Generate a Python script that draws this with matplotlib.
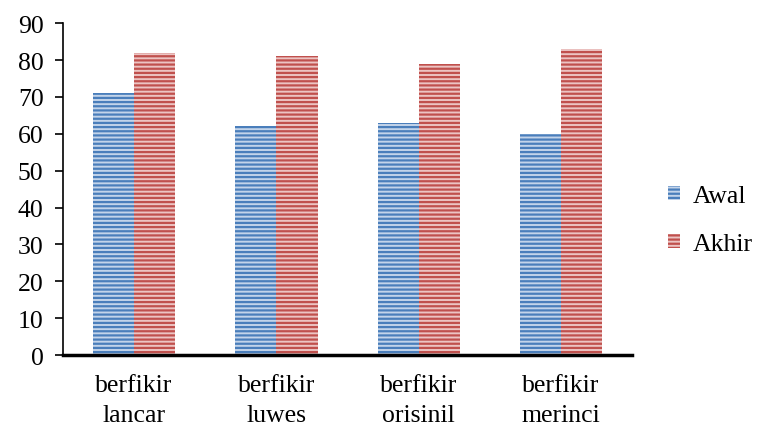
import matplotlib
matplotlib.use("Agg")
import matplotlib.pyplot as plt
from matplotlib.patches import Patch
import numpy as np

categories = ["berfikir\nlancar", "berfikir\nluwes", "berfikir\norisinil", "berfikir\nmerinci"]
awal = [71, 62, 63, 60]
akhir = [82, 81, 79, 83]
series_names = ["Awal", "Akhir"]
yticks = [0, 10, 20, 30, 40, 50, 60, 70, 80, 90]

plt.rcParams["font.family"] = ["Liberation Serif", "DejaVu Serif"]
plt.rcParams["hatch.linewidth"] = 1.6

fig = plt.figure(figsize=(7.57, 4.31), dpi=100)
ax = fig.add_axes([0.0832, 0.174, 0.752, 0.770])

x = np.arange(len(categories)) + 0.5
w = 0.29
styles = [("#c3d4ea", "#4a7ebb"), ("#ecc4c3", "#c0504d")]

for i, (vals, (face, stripe)) in enumerate(zip([awal, akhir], styles)):
    xs = x - w / 2 + i * w
    ax.bar(xs, vals, width=w, color=face, linewidth=0, zorder=2)
    ax.bar(xs, vals, width=w, facecolor="none", edgecolor=stripe,
           hatch="----", linewidth=0, zorder=3)

fs = 18.5
ax.set_xlim(0, 4)
ax.set_ylim(0, 90)
ax.set_yticks(yticks)
ax.set_xticks(x)
ax.set_xticklabels(categories, fontsize=fs, linespacing=1.45)
ax.tick_params(axis="y", labelsize=fs, direction="out", length=6, width=1.2, pad=8)
ax.tick_params(axis="x", length=0, pad=14)

for s in ["top", "right"]:
    ax.spines[s].set_visible(False)
ax.spines["left"].set_linewidth(1.2)
ax.spines["bottom"].set_linewidth(2.5)
ax.spines["bottom"].set_zorder(5)

handles = [Patch(facecolor=f, edgecolor=s, hatch="----", linewidth=0) for f, s in styles]
fig.legend(handles, series_names, loc="center left", bbox_to_anchor=(0.882, 0.487),
           frameon=False, fontsize=fs, handlelength=0.48, handleheight=0.48,
           handletextpad=0.5, labelspacing=1.0, borderpad=0, borderaxespad=0)

fig.savefig("out.png", dpi=100)
